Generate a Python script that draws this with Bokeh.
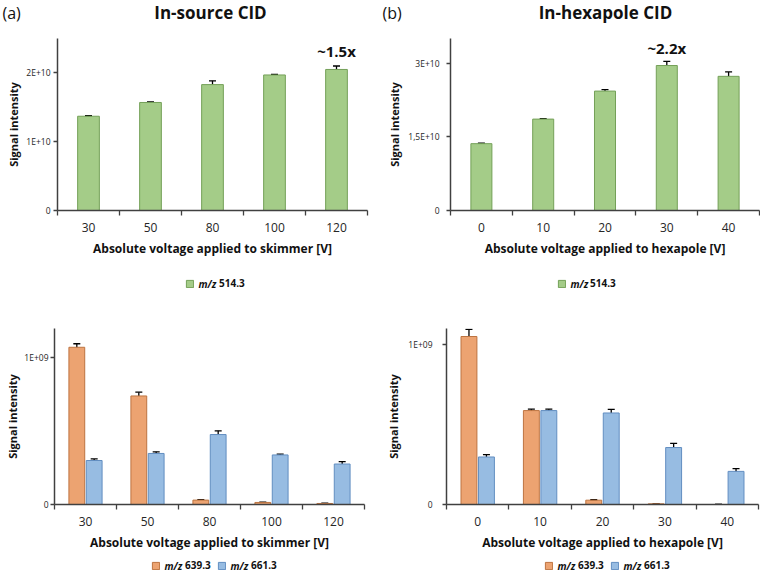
from bokeh.plotting import figure
from bokeh.models import (ColumnDataSource, FixedTicker, Whisker, TeeHead, Label,
                          Legend, LegendItem, Range1d)
from bokeh.layouts import column, row
from bokeh.embed import file_html
from bokeh.resources import INLINE

FONT = "Open Sans"

# ---------------- data ----------------
skimmer_v = ["30", "50", "80", "100", "120"]
hexapole_v = ["0", "10", "20", "30", "40"]

insrc_514 = [1.37e10, 1.57e10, 1.83e10, 1.97e10, 2.05e10]
insrc_514_err = [0.010e10, 0.008e10, 0.055e10, 0.010e10, 0.050e10]

hexa_514 = [1.36e10, 1.86e10, 2.43e10, 2.95e10, 2.73e10]
hexa_514_err = [0.010e10, 0.010e10, 0.030e10, 0.085e10, 0.090e10]

insrc_639 = [1.072e9, 0.740e9, 0.030e9, 0.014e9, 0.007e9]
insrc_639_err = [0.024e9, 0.026e9, 0.003e9, 0.002e9, 0.002e9]
insrc_661 = [0.300e9, 0.348e9, 0.477e9, 0.338e9, 0.276e9]
insrc_661_err = [0.011e9, 0.011e9, 0.025e9, 0.005e9, 0.017e9]

hexa_639 = [1.050e9, 0.587e9, 0.027e9, 0.004e9, 0.0]
hexa_639_err = [0.044e9, 0.009e9, 0.003e9, 0.001e9, 0.0]
hexa_661 = [0.297e9, 0.587e9, 0.572e9, 0.356e9, 0.207e9]
hexa_661_err = [0.015e9, 0.009e9, 0.023e9, 0.026e9, 0.017e9]

top_a_ticks = [0, 1e10, 2e10]
top_a_labels = ["0", "1E+10", "2E+10"]
top_b_ticks = [0, 1.5e10, 3e10]
top_b_labels = ["0", "1,5E+10", "3E+10"]
bot_ticks = [0, 1e9]
bot_labels = ["0", "1E+09"]

GREEN, GREEN_E = "#a4cc88", "#74a058"
ORANGE, ORANGE_E = "#eca371", "#bd7441"
BLUE, BLUE_E = "#97bce2", "#628ec1"
AXIS = "#404040"
TXT = "#111111"

TOTAL_W = 760


def make_fig(w, h, left, right, top, bottom, ymax, yticks, ylabels, xlabels, xtitle,
             ytick_standoff, ytitle_standoff):
    p = figure(width=w, height=h, x_range=Range1d(0.5, 5.5), y_range=Range1d(0, ymax),
               output_backend="svg", toolbar_location=None, tools="",
               min_border_left=left, min_border_right=right,
               min_border_top=top, min_border_bottom=bottom)
    p.outline_line_color = None
    p.grid.visible = False
    xa = p.xaxis[0]
    xa.ticker = FixedTicker(ticks=[1, 2, 3, 4, 5], minor_ticks=[0.5, 1.5, 2.5, 3.5, 4.5, 5.5])
    xa.major_label_overrides = {i + 1: s for i, s in enumerate(xlabels)}
    xa.major_tick_out = 0
    xa.major_tick_in = 0
    xa.minor_tick_out = 5
    xa.minor_tick_in = 0
    xa.minor_tick_line_color = AXIS
    xa.minor_tick_line_width = 1.3
    xa.axis_line_color = AXIS
    xa.axis_line_width = 1.5
    xa.major_label_text_font = FONT
    xa.major_label_text_font_size = "12px"
    xa.major_label_text_color = "#262626"
    xa.major_label_standoff = 7
    xa.axis_label = xtitle
    xa.axis_label_text_font = FONT
    xa.axis_label_text_font_style = "bold"
    xa.axis_label_text_font_size = "12px"
    xa.axis_label_text_color = TXT
    xa.axis_label_standoff = 5

    ya = p.yaxis[0]
    ya.ticker = FixedTicker(ticks=yticks, minor_ticks=[])
    ya.major_label_overrides = {t: s for t, s in zip(yticks, ylabels)}
    ya.major_tick_out = 4
    ya.major_tick_in = 0
    ya.major_tick_line_color = AXIS
    ya.major_tick_line_width = 1.3
    ya.axis_line_color = AXIS
    ya.axis_line_width = 1.5
    ya.major_label_text_font = FONT
    ya.major_label_text_font_size = "8.5px"
    ya.major_label_text_color = "#262626"
    ya.major_label_standoff = ytick_standoff
    ya.axis_label = "Signal intensity"
    ya.axis_label_text_font = FONT
    ya.axis_label_text_font_style = "bold"
    ya.axis_label_text_font_size = "11px"
    ya.axis_label_text_color = TXT
    ya.axis_label_standoff = ytitle_standoff
    return p


def bars(p, xs, vals, errs, width, color, edge):
    src = ColumnDataSource(dict(x=xs, top=vals,
                                upper=[v + e for v, e in zip(vals, errs)],
                                lower=[v - e for v, e in zip(vals, errs)]))
    r = p.vbar(x="x", top="top", width=width, bottom=0, source=src,
               fill_color=color, line_color=edge, line_width=1)
    w = Whisker(source=src, base="x", upper="upper", lower="lower", dimension="height",
                line_color="black", line_width=1.3,
                upper_head=TeeHead(size=7, line_color="black", line_width=1.3),
                lower_head=TeeHead(size=7, line_color="black", line_width=1.3))
    p.add_layout(w)
    return r


def strip(h):
    s = figure(width=TOTAL_W, height=h, x_range=Range1d(0, TOTAL_W), y_range=Range1d(0, h),
               output_backend="svg", toolbar_location=None, tools="",
               x_axis_location=None, y_axis_location=None,
               min_border_left=0, min_border_right=0, min_border_top=0, min_border_bottom=0)
    s.outline_line_color = None
    s.grid.visible = False
    return s


def legend_entry(s, color, edge, sw_x, mz_x, num_x, num_text, yc):
    # legend proxy glyph kept far outside the visible range; only its swatch is seen
    proxy = s.vbar(x=[-5000], top=[-4000], bottom=[-5000], width=1, fill_color=color,
                   line_color=edge, line_width=1)
    leg = Legend(items=[LegendItem(label=num_text, renderers=[proxy])],
                 location=(sw_x, yc - 7), orientation="horizontal",
                 padding=0, margin=0, border_line_color=None, background_fill_alpha=0,
                 glyph_width=9, glyph_height=9, label_standoff=num_x - sw_x - 9,
                 label_height=14, label_width=10, spacing=0,
                 label_text_font=FONT, label_text_font_style="bold",
                 label_text_font_size="10px", label_text_color=TXT)
    s.add_layout(leg)
    s.add_layout(Label(x=mz_x, y=yc, text="m/z", text_font=FONT,
                       text_font_style="bold italic", text_font_size="10px",
                       text_baseline="middle", text_align="left", text_color=TXT))


xs = [1, 2, 3, 4, 5]

# ---------- header strip ----------
H0 = 26
head = strip(H0)
head.add_layout(Label(x=2, y=14, text="(a)", text_font=FONT, text_font_size="16px",
                      text_baseline="middle", text_align="left", text_color=TXT))
head.add_layout(Label(x=210, y=14, text="In-source CID", text_font=FONT,
                      text_font_style="bold", text_font_size="17px",
                      text_baseline="middle", text_align="center", text_color=TXT))
head.add_layout(Label(x=382, y=14, text="(b)", text_font=FONT, text_font_size="16px",
                      text_baseline="middle", text_align="left", text_color=TXT))
head.add_layout(Label(x=605, y=14, text="In-hexapole CID", text_font=FONT,
                      text_font_style="bold", text_font_size="17px",
                      text_baseline="middle", text_align="center", text_color=TXT))

# ---------- top-left: In-source CID ----------
p1 = make_fig(380, 242, 57, 13, 12, 58, 2.5e10, top_a_ticks, top_a_labels, skimmer_v,
              "Absolute voltage applied to skimmer [V]", 3, 2)
bars(p1, xs, insrc_514, insrc_514_err, 0.35, GREEN, GREEN_E)
p1.add_layout(Label(x=5, y=2.32e10, text="~1.5x", text_font=FONT, text_font_style="bold",
                    text_font_size="15px", text_baseline="middle", text_align="center",
                    text_color=TXT))

# ---------- top-right: In-hexapole CID ----------
p2 = make_fig(380, 242, 70, 1, 12, 58, 3.5e10, top_b_ticks, top_b_labels, hexapole_v,
              "Absolute voltage applied to hexapole [V]", 7, 3)
bars(p2, xs, hexa_514, hexa_514_err, 0.34, GREEN, GREEN_E)
p2.add_layout(Label(x=4, y=3.31e10, text="~2.2x", text_font=FONT, text_font_style="bold",
                    text_font_size="15px", text_baseline="middle", text_align="center",
                    text_color=TXT))

# ---------- legend strip for top row ----------
H1 = 30
leg1 = strip(H1)
legend_entry(leg1, GREEN, GREEN_E, 185, 198, 219, "514.3", 15)
legend_entry(leg1, GREEN, GREEN_E, 557, 570, 590, "514.3", 15)

# ---------- bottom-left ----------
p3 = make_fig(380, 258, 54, 16, 30, 52, 1.2e9, bot_ticks, bot_labels, skimmer_v,
              "Absolute voltage applied to skimmer [V]", 2, 1)
bars(p3, [x - 0.14 for x in xs], insrc_639, insrc_639_err, 0.255, ORANGE, ORANGE_E)
bars(p3, [x + 0.14 for x in xs], insrc_661, insrc_661_err, 0.255, BLUE, BLUE_E)

# ---------- bottom-right ----------
p4 = make_fig(380, 258, 66, 2, 28, 52, 1.1e9, bot_ticks, bot_labels, hexapole_v,
              "Absolute voltage applied to hexapole [V]", 10, 4)
bars(p4, [x - 0.14 for x in xs], hexa_639, hexa_639_err, 0.255, ORANGE, ORANGE_E)
bars(p4, [x + 0.14 for x in xs], hexa_661, hexa_661_err, 0.255, BLUE, BLUE_E)

# ---------- legend strip for bottom row ----------
H2 = 17
leg2 = strip(H2)
legend_entry(leg2, ORANGE, ORANGE_E, 151, 164, 185, "639.3", 8)
legend_entry(leg2, BLUE, BLUE_E, 217, 230, 251, "661.3", 8)
legend_entry(leg2, ORANGE, ORANGE_E, 544, 557, 578, "639.3", 8)
legend_entry(leg2, BLUE, BLUE_E, 610, 623, 644, "661.3", 8)

layout = column(head, row(p1, p2), leg1, row(p3, p4), leg2)
open("out.html", "w").write(file_html(layout, INLINE))
